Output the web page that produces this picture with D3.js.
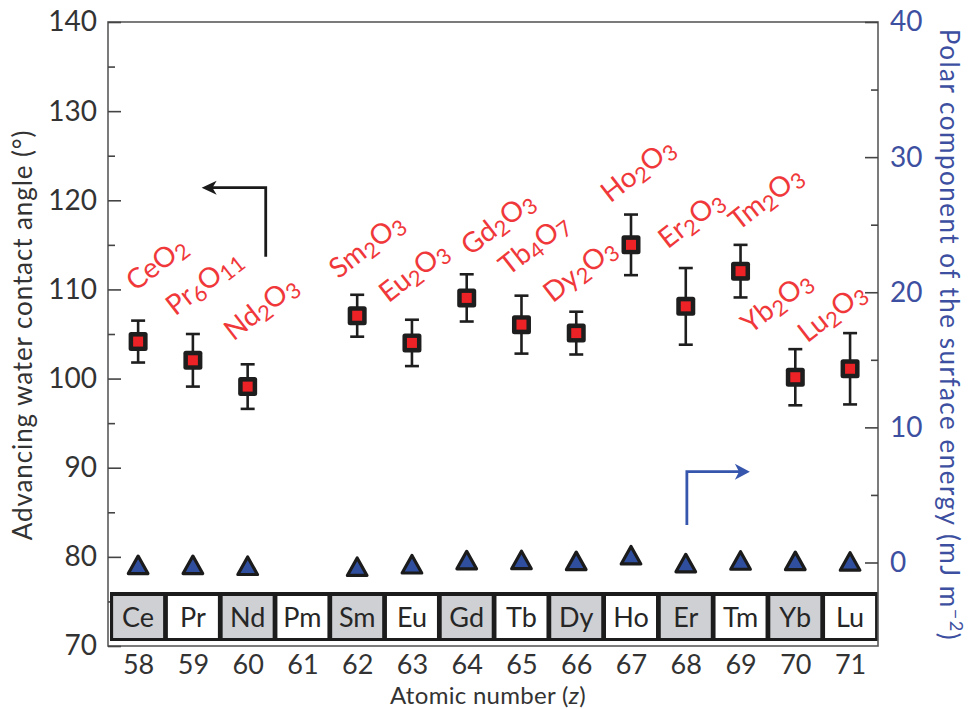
<!DOCTYPE html>
<html>
<head>
<meta charset="utf-8">
<script src="https://cdn.jsdelivr.net/npm/d3@7"></script>
<style>
  html, body { margin: 0; padding: 0; background: #fff; }
  svg { display: block; font-family: Lato, "Open Sans", sans-serif; }
</style>
</head>
<body>
<svg id="chart" width="971" height="709"></svg>
<script>
// ---------------- data ----------------
const elements = ["Ce","Pr","Nd","Pm","Sm","Eu","Gd","Tb","Dy","Ho","Er","Tm","Yb","Lu"];
const atomicNumbers = [58,59,60,61,62,63,64,65,66,67,68,69,70,71];

const oxideZ = [58,59,60,62,63,64,65,66,67,68,69,70,71];
const oxideNames = ["CeO2","Pr6O11","Nd2O3","Sm2O3","Eu2O3","Gd2O3","Tb4O7","Dy2O3","Ho2O3","Er2O3","Tm2O3","Yb2O3","Lu2O3"];
const contactAngle = [104.15,102.05,99.1,107.05,104.0,109.05,106.05,105.1,115.0,108.1,112.05,100.15,101.1];
const contactAngleErr = [2.35,2.95,2.5,2.35,2.6,2.65,3.25,2.4,3.4,4.3,2.95,3.15,4.0];
const polarEnergy = [-0.19,-0.19,-0.26,-0.33,-0.15,0.16,0.17,0.1,0.52,-0.06,0.13,0.1,0.06];

// label anchors (data units: atomic number, contact angle)
const labelZ = [57.95,58.68,59.74,61.66,62.57,64.07,64.76,65.57,66.62,67.67,68.96,69.18,70.22];
const labelAngle = [109.7,106.97,104.17,111.12,108.43,113.7,111.46,108.43,119.65,114.49,116.51,104.95,103.94];

const leftTicks = [70,80,90,100,110,120,130,140];
const leftMinor = [75,85,95,105,115,125,135];
const rightTicks = [0,10,20,30,40];
const rightMinor = [5,15,25,35];

// annotation arrows (data units)
const leftArrow = {z0: 60.33, a0: 113.67, a1: 121.41, zTip: 59.16};
const rightArrow = {z0: 68.02, p0: 2.78, p1: 6.72, zTip: 69.17};

// ---------------- layout ----------------
const svg = d3.select("#chart");
const L = 108, R = 878, T = 22, B = 646;
const x = d3.scaleLinear().domain([57.45, 71.51]).range([L, R]);
const yL = d3.scaleLinear().domain([70, 140]).range([B, T]);
const yR = d3.scaleLinear().domain([-6.18, 40]).range([B, T]);

const darkText = "#333333";
const blueText = "#3d4fa0";
const red = "#f0383a";

// frame
svg.append("rect").attr("x", L).attr("y", T).attr("width", R - L).attr("height", B - T)
  .attr("fill", "none").attr("stroke", "#5a5a5a").attr("stroke-width", 1.6);

// left axis
const gL = svg.append("g").attr("transform", `translate(${L},0)`);
gL.call(d3.axisLeft(yL).tickValues(leftTicks).tickSizeInner(-13).tickSizeOuter(0).tickPadding(11));
gL.append("g").call(d3.axisLeft(yL).tickValues(leftMinor).tickSizeInner(-7).tickSizeOuter(0).tickFormat(""));
gL.selectAll(".domain").remove();
gL.selectAll("line").attr("stroke", "#444").attr("stroke-width", 1.6);
gL.selectAll("text").attr("font-size", 28).attr("font-family", "Lato").attr("fill", darkText);

// right axis
const gR = svg.append("g").attr("transform", `translate(${R},0)`);
gR.call(d3.axisRight(yR).tickValues(rightTicks).tickSizeInner(-13).tickSizeOuter(0).tickPadding(12));
gR.append("g").call(d3.axisRight(yR).tickValues(rightMinor).tickSizeInner(-7).tickSizeOuter(0).tickFormat(""));
gR.selectAll(".domain").remove();
gR.selectAll("line").attr("stroke", "#444").attr("stroke-width", 1.6);
gR.selectAll("text").attr("font-size", 28).attr("font-family", "Lato").attr("fill", blueText);

// bottom axis labels
const gB = svg.append("g").attr("transform", `translate(0,${B})`);
gB.call(d3.axisBottom(x).tickValues(atomicNumbers).tickSize(0).tickPadding(9).tickFormat(d3.format("d")));
gB.select(".domain").remove();
gB.selectAll("text").attr("font-size", 27).attr("font-family", "Lato").attr("fill", darkText);

// element strip
const cellTop = 592, cellBot = 641;
svg.append("rect").attr("x", L + 2).attr("y", cellTop).attr("width", R - L - 2.5).attr("height", cellBot - cellTop)
  .attr("fill", "#1c1c1c");
const cells = svg.append("g").selectAll("g").data(elements).join("g");
cells.append("rect")
  .attr("x", (d, i) => x(atomicNumbers[i]) - 25)
  .attr("y", cellTop + 4)
  .attr("width", 50)
  .attr("height", cellBot - cellTop - 7)
  .attr("fill", (d, i) => i % 2 === 0 ? "#cfd0d3" : "#ffffff");
cells.append("text")
  .attr("x", (d, i) => x(atomicNumbers[i]))
  .attr("y", 627)
  .attr("text-anchor", "middle")
  .attr("font-size", 27)
  .attr("fill", "#262626")
  .text(d => d);

// error bars
const eb = svg.append("g").attr("stroke", "#1e1e1e").attr("stroke-width", 2.6);
oxideZ.forEach((z, i) => {
  const cx = x(z);
  const top = yL(contactAngle[i] + contactAngleErr[i]);
  const bot = yL(contactAngle[i] - contactAngleErr[i]);
  eb.append("line").attr("x1", cx).attr("x2", cx).attr("y1", top).attr("y2", bot);
  eb.append("line").attr("x1", cx - 7).attr("x2", cx + 7).attr("y1", top).attr("y2", top);
  eb.append("line").attr("x1", cx - 7).attr("x2", cx + 7).attr("y1", bot).attr("y2", bot);
});

// square markers
const sq = svg.append("g").selectAll("g").data(oxideZ).join("g");
sq.append("rect")
  .attr("x", d => x(d) - 9.5).attr("y", (d, i) => yL(contactAngle[i]) - 9.5)
  .attr("width", 19).attr("height", 19).attr("rx", 2.5)
  .attr("fill", "#1e1e1e");
sq.append("rect")
  .attr("x", d => x(d) - 5).attr("y", (d, i) => yL(contactAngle[i]) - 5)
  .attr("width", 10).attr("height", 10)
  .attr("fill", "#ec2226");

// triangle markers
const triPath = (cx, cy) => {
  const p = d3.path();
  const h = 17, w = 19.6;
  p.moveTo(cx, cy - h / 2 - 0.5);
  p.lineTo(cx + w / 2, cy + h / 2);
  p.lineTo(cx - w / 2, cy + h / 2);
  p.closePath();
  return p.toString();
};
svg.append("g").selectAll("path").data(oxideZ).join("path")
  .attr("d", (d, i) => triPath(x(d), yR(polarEnergy[i])))
  .attr("fill", "#2f4f9e")
  .attr("stroke", "#1b1b1b")
  .attr("stroke-width", 3.2)
  .attr("stroke-linejoin", "round");

// formula labels
function addFormula(sel, s) {
  let shifted = false;
  s.split(/(\d+)/).filter(p => p.length).forEach(part => {
    const isNum = /^\d+$/.test(part);
    const t = sel.append("tspan").text(part);
    if (isNum) {
      t.attr("font-size", "0.78em").attr("dy", shifted ? 0 : "0.22em");
      shifted = true;
    } else {
      if (shifted) t.attr("dy", "-0.172em");
      shifted = false;
    }
  });
}
const labels = svg.append("g").attr("fill", red).attr("font-size", 28);
oxideNames.forEach((name, i) => {
  const t = labels.append("text")
    .attr("transform", `translate(${x(labelZ[i])},${yL(labelAngle[i])}) rotate(-38)`);
  addFormula(t, name);
});

// arrows
function arrowHead(tx, ty, dir, color, len, half) {
  const p = d3.path();
  p.moveTo(tx, ty);
  p.lineTo(tx - dir * len, ty - half);
  p.lineTo(tx - dir * len * 0.72, ty);
  p.lineTo(tx - dir * len, ty + half);
  p.closePath();
  svg.append("path").attr("d", p.toString()).attr("fill", color);
}
{
  const a = leftArrow;
  const line = d3.line();
  svg.append("path")
    .attr("d", line([[x(a.z0), yL(a.a0)], [x(a.z0), yL(a.a1)], [x(a.zTip) + 8, yL(a.a1)]]))
    .attr("fill", "none").attr("stroke", "#1a1a1a").attr("stroke-width", 2.8);
  arrowHead(x(a.zTip), yL(a.a1), -1, "#1a1a1a", 15, 7);
}
{
  const a = rightArrow;
  const line = d3.line();
  svg.append("path")
    .attr("d", line([[x(a.z0), yR(a.p0)], [x(a.z0), yR(a.p1)], [x(a.zTip) - 8, yR(a.p1)]]))
    .attr("fill", "none").attr("stroke", "#3656ad").attr("stroke-width", 2.8);
  arrowHead(x(a.zTip), yR(a.p1), 1, "#3656ad", 15, 8);
}

// axis titles
const xt = svg.append("text")
  .attr("x", 488).attr("y", 704).attr("text-anchor", "middle")
  .attr("font-size", 24).attr("letter-spacing", 0.3).attr("fill", darkText);
xt.append("tspan").text("Atomic number (");
xt.append("tspan").attr("font-style", "italic").text("z");
xt.append("tspan").text(")");

svg.append("text")
  .attr("transform", "translate(32,335) rotate(-90)")
  .attr("text-anchor", "middle")
  .attr("font-size", 26).attr("letter-spacing", 0.9).attr("fill", darkText)
  .text("Advancing water contact angle (°)");

const rt = svg.append("text")
  .attr("transform", "translate(940,335) rotate(90)")
  .attr("text-anchor", "middle")
  .attr("font-size", 26).attr("letter-spacing", 1.5).attr("fill", blueText);
rt.append("tspan").text("Polar component of the surface energy (mJ  m");
rt.append("tspan").attr("font-size", "0.7em").attr("dy", "-0.55em").text("\u22122");
rt.append("tspan").attr("dy", "0.385em").text(")");
</script>
</body>
</html>
